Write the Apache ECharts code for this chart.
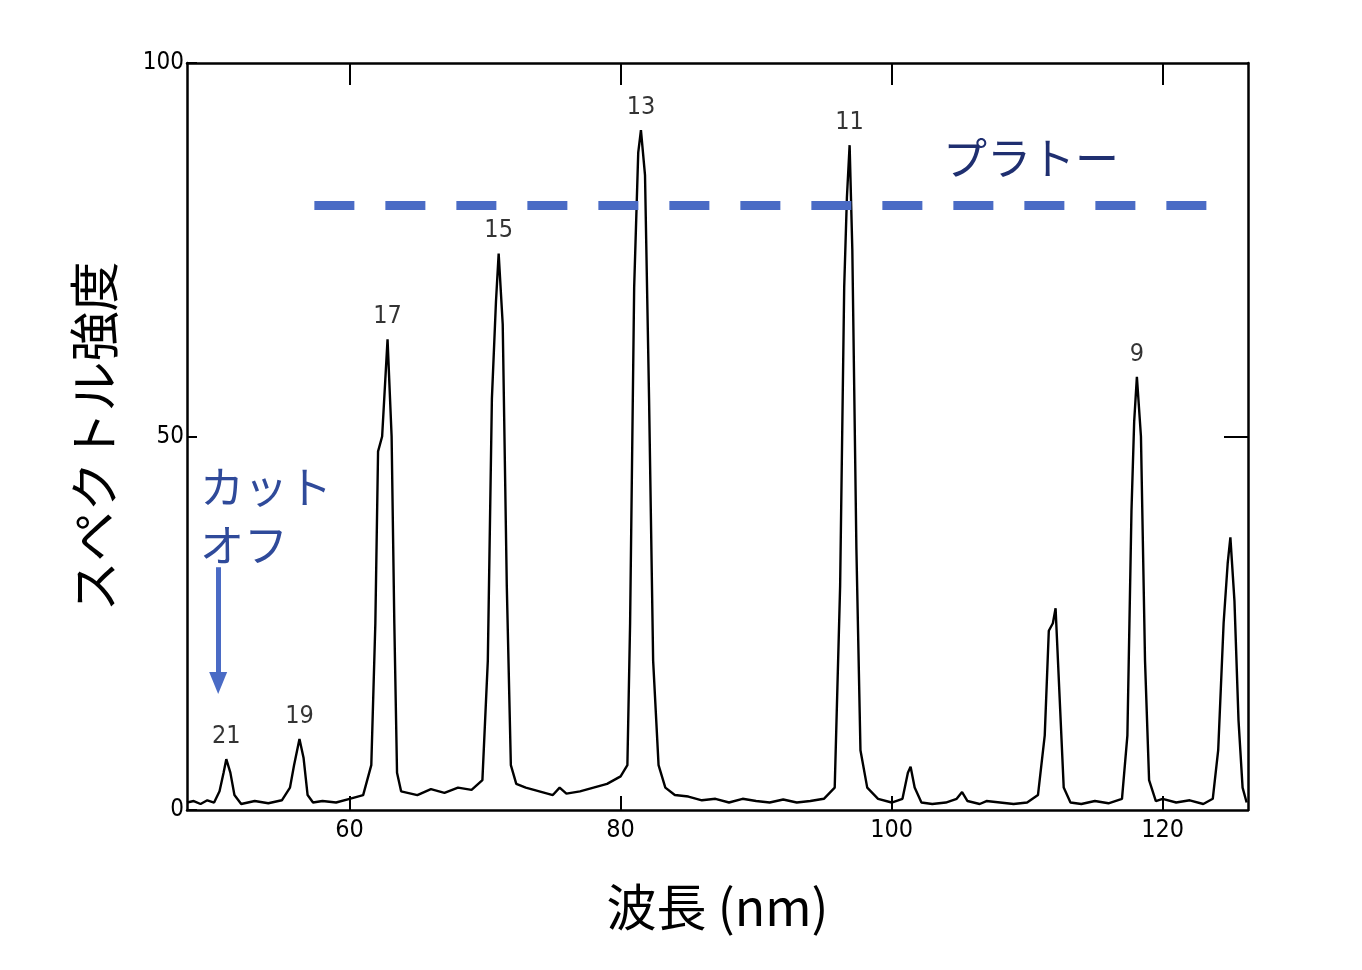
<!DOCTYPE html>
<html><head><meta charset="utf-8">
<script src="https://cdn.jsdelivr.net/npm/echarts@6/dist/echarts.min.js"></script>
<style>html,body{margin:0;padding:0;background:#fff}#c{width:1362px;height:970px}</style>
</head><body><div id="c"></div>
<script>
const wavelength = [48,48.5,49,49.5,50,50.4,50.7,50.9,51.2,51.5,52,53,54,55,55.6,55.9,56.3,56.6,56.9,57.3,58,59,60,61,61.6,61.9,62.1,62.4,62.8,63.1,63.3,63.5,63.8,65,66,67,68,69,69.8,70.2,70.5,70.8,71.0,71.3,71.6,71.9,72.3,73,74,75,75.5,76,77,78,79,80,80.5,80.7,81,81.3,81.5,81.8,82.1,82.4,82.8,83.3,84,85,86,87,88,89,90,91,92,93,94,95,95.8,96.2,96.5,96.7,96.9,97.1,97.4,97.7,98.2,99,100,100.8,101.2,101.4,101.7,102.2,103,104,104.8,105.2,105.6,106.5,107,108,109,110,110.8,111.3,111.6,111.9,112.1,112.4,112.7,113.2,114,115,116,117,117.4,117.7,117.9,118.1,118.4,118.7,119,119.5,120,121,122,123,123.7,124.1,124.5,124.8,125,125.3,125.6,125.9,126.2];
const intensity = [1,1.2,0.8,1.3,1.0,2.5,5,6.8,5,2,0.8,1.2,0.9,1.3,3,6,9.5,7,2,1,1.2,1,1.5,2,6,25,48,50,63,50,25,5,2.5,2,2.8,2.3,3,2.7,4,20,55,68,74.5,65,30,6,3.5,3,2.5,2,3,2.2,2.5,3,3.5,4.5,6,25,70,88,91,85,55,20,6,3,2,1.8,1.3,1.5,1.0,1.5,1.2,1.0,1.4,1.0,1.2,1.5,3,30,70,82,89,75,35,8,3,1.5,1,1.5,5,5.8,3,1,0.8,1,1.5,2.4,1.2,0.8,1.2,1,0.8,1,2,10,24,25,27,15,3,1,0.8,1.2,0.9,1.5,10,40,52,58,50,20,4,1.2,1.5,1,1.3,0.8,1.5,8,25,33,36.5,28,12,3,1];
const peakOrders = ['21','19','17','15','13','11','9'];
const peakX = [50.9,56.3,62.8,71.0,81.5,96.9,118.1];
const peakY = [6.8,9.5,63,74.5,91,89,58];
const plateauLevel = 81, plateauStart = 57.4, plateauEnd = 123.3;
const xTicks = [60,80,100,120];
const yTicks = [0,50,100];

const chart = echarts.init(document.getElementById('c'));
const axisCommon = {axisLine:{show:true,onZero:false,lineStyle:{color:'#000',width:2.5}}, splitLine:{show:false}};
chart.setOption({
  animation:false,
  grid:{left:187,right:114,top:63,bottom:160},
  xAxis:[
    Object.assign({type:'value',min:48,max:126.3,interval:20,position:'bottom',
      axisTick:{inside:true,length:14,lineStyle:{width:2,color:'#000'},customValues:xTicks},
      axisLabel:{color:'#000',fontSize:25,fontFamily:'DejaVu Sans Condensed',margin:8,customValues:xTicks},
      name:'波長 (nm)',nameLocation:'middle',nameGap:72,
      nameTextStyle:{fontSize:50,color:'#000',fontFamily:'Noto Sans CJK JP'}},axisCommon),
    Object.assign({type:'value',min:48,max:126.3,position:'top',
      axisTick:{inside:true,length:22,lineStyle:{width:2,color:'#000'},customValues:xTicks},
      axisLabel:{show:false}},axisCommon)
  ],
  yAxis:[
    Object.assign({type:'value',min:0,max:100,interval:50,
      axisTick:{inside:true,length:10,lineStyle:{width:2,color:'#000'}},
      axisLabel:{color:'#000',fontSize:24,fontFamily:'DejaVu Sans Condensed',margin:3},
      name:'スペクトル強度',nameLocation:'middle',nameGap:68,
      nameTextStyle:{fontSize:50,color:'#000',fontFamily:'Noto Sans CJK JP'}},axisCommon),
    Object.assign({type:'value',min:0,max:100,interval:50,position:'right',
      axisTick:{inside:true,length:24,lineStyle:{width:2,color:'#000'},customValues:[50]},
      axisLabel:{show:false}},axisCommon)
  ],
  series:[
    {type:'line',data:wavelength.map((x,i)=>[x,intensity[i]]),showSymbol:false,
     lineStyle:{color:'#000',width:2.4},
     markLine:{silent:true,symbol:['none','none'],label:{show:false},
       data:[
         [{coord:[plateauStart,plateauLevel],lineStyle:{color:'#4a6bc5',width:9,type:[40,31]}},{coord:[plateauEnd,plateauLevel]}],
         [{coord:[50.3,32.5],symbol:'none',lineStyle:{color:'#4a6bc5',width:5,type:'solid'}},{coord:[50.3,17],symbol:'triangle',symbolSize:[18,22],symbolRotate:180}]
       ]}},
    {type:'scatter',data:peakX.map((x,i)=>[x,peakY[i],peakOrders[i]]),symbolSize:0,
     label:{show:true,position:'top',distance:10,formatter:p=>p.data[2],color:'#000',fontSize:25,fontFamily:'DejaVu Sans Condensed'}}
  ],
  graphic:[
    {type:'text',left:943,top:136,style:{text:'プラトー',fontSize:44,fill:'#1f2f70',fontFamily:'Noto Sans CJK JP'}},
    {type:'text',left:200,top:458,style:{text:'カット\nオフ',fontSize:44,lineHeight:58,fill:'#2f4a9a',fontFamily:'Noto Sans CJK JP'}}
  ]
});
</script></body></html>
